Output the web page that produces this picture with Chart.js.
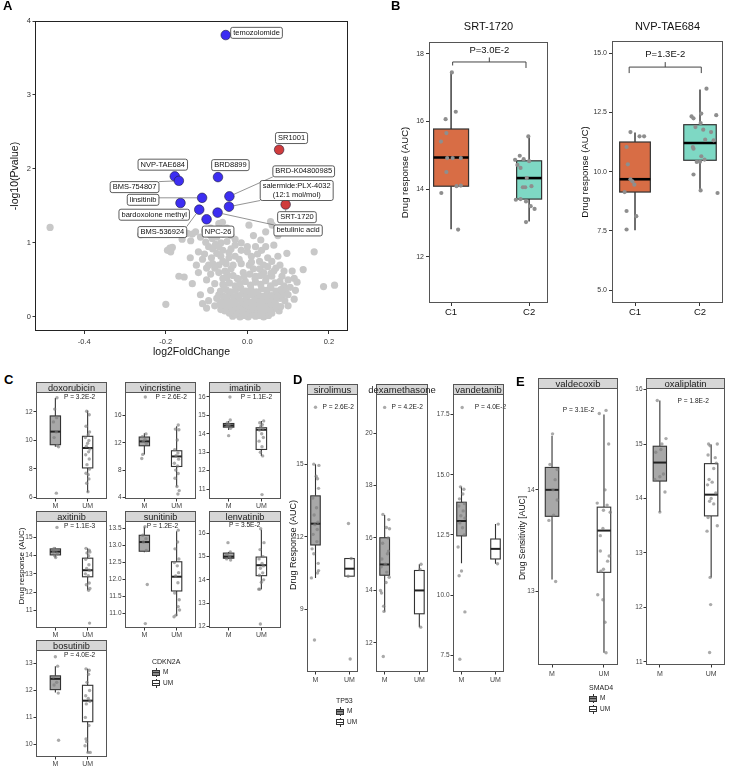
<!DOCTYPE html>
<html>
<head>
<meta charset="utf-8">
<script src="https://cdn.jsdelivr.net/npm/chart.js@4.4.0/dist/chart.umd.min.js"></script>
<style>
  body { margin: 0; background: #fff; font-family: "Liberation Sans", Arial, sans-serif; }
  #fig { position: relative; width: 729px; height: 766px; overflow: hidden; }
  #fig canvas { position: absolute; }
  .letter { position: absolute; font-weight: bold; font-size: 13px; color: #000; }
  .yt { position: absolute; width: 120px; height: 12px; line-height: 12px; margin-left: -60px; margin-top: -6px;
        text-align: center; transform: rotate(-90deg); white-space: nowrap; color: #111; }
  .lg { position: absolute; font-size: 6.5px; color: #222; white-space: nowrap; }
  .key { position: absolute; width: 8px; height: 7px; }
  .key .w { position: absolute; left: 3.5px; top: -1px; width: 1px; height: 9px; background: #333; }
  .key .b { position: absolute; left: 0; top: 0.5px; width: 6px; height: 4px; border: 1px solid #333; }
  .key .m { position: absolute; left: 0; top: 3px; width: 8px; height: 1px; background: #333; }
</style>
</head>
<body>
<div id="fig"></div>
<script>
// ---------- A: volcano ----------
const volcanoTicksX = ['-0.4', '-0.2', '0.0', '0.2'];
const volcanoTicksY = ['0', '1', '2', '3', '4'];
const hitNames = ['temozolomide', 'SR1001', 'NVP-TAE684', 'BMS-754807', 'BRD8899', 'BRD-K04800985',
  'linsitinib', 'salermide:PLX-4032\n(12:1 mol/mol)', 'bardoxolone methyl', 'BMS-536924',
  'betulinic acid', 'NPC-26', 'SRT-1720'];
const hitX = [-0.053, 0.078, -0.178, -0.168, -0.072, -0.044, -0.111, -0.045, -0.164, -0.118, -0.073, -0.100, 0.094];
const hitY = [3.81, 2.26, 1.90, 1.84, 1.89, 1.63, 1.61, 1.49, 1.54, 1.45, 1.41, 1.32, 1.52];
const hitUp = [false, true, false, false, false, false, false, false, false, false, false, false, true];
const greyPoints = [
  [-0.484,1.21],[-0.262,1.11],[-0.2,0.17],[-0.19,0.93],[-0.188,0.88],[-0.196,0.9],[-0.184,0.94],
  [-0.168,0.55],[-0.155,0.54],[-0.135,0.45],[-0.115,0.30],[-0.11,0.18],[-0.127,1.15],[-0.135,1.12],
  [-0.147,1.13],[-0.16,1.05],[-0.139,1.03],[-0.098,1.13],[-0.082,1.18],[-0.07,1.26],[-0.061,1.28],
  [-0.102,1.01],[-0.086,1.06],[-0.095,0.95],[-0.078,0.98],[-0.065,1.0],[-0.05,1.02],[-0.06,0.9],
  [-0.075,0.86],[-0.088,0.8],[-0.04,0.92],[-0.03,0.97],[0.004,1.24],[0.057,1.29],[0.061,1.24],
  [0.033,1.04],[0.02,0.95],[0.045,0.95],[0.065,0.97],[0.05,0.8],[0.075,0.82],[0.097,0.86],[0.164,0.88],
  [0.137,0.64],[0.11,0.62],[0.115,0.52],[0.122,0.47],[0.118,0.36],[0.187,0.41],[0.214,0.43],[0.115,0.24],
  [0.073,0.32],[0.09,0.42],[0.1,0.3],[0.085,0.55],[0.07,0.66],[0.03,0.75],[0.005,0.7],[-0.02,0.78],
  [-0.045,0.8],[-0.11,0.78],[-0.1,0.66],[-0.12,0.6],[-0.09,0.58],[-0.1,0.5],[-0.07,0.7],[-0.055,0.62],
  [-0.08,0.45],[-0.09,0.36],[-0.075,0.25],[-0.08,0.15],[-0.095,0.22],[-0.1,0.12],[-0.065,0.1],
  [-0.09,1.1],[-0.075,1.08],[-0.06,1.12],[-0.05,1.15],[-0.04,1.1],[-0.085,0.92],[-0.065,0.82],
  [-0.052,0.72],[-0.04,0.65],[-0.07,0.6],[-0.06,0.52],[-0.08,0.66],[-0.095,0.7],[-0.105,0.85],
  [-0.12,0.88],[0.01,0.82],[0.035,0.9],[0.06,0.75],[0.08,0.7],[0.09,0.62],[0.1,0.5],[0.105,0.4],[0.095,0.33],
  [-0.06,0.75],[-0.035,0.7],[-0.01,0.6],[0.015,0.65],[0.04,0.6],[0.06,0.55],[-0.085,0.72],[-0.05,0.58],
  [-0.025,0.52],[0.025,0.85],[0.0,0.88],[-0.015,0.9],[0.04,0.7],
  [-0.115,1.08],[-0.105,1.16],[-0.09,1.2],[-0.05,1.2],[-0.03,1.05],[-0.015,1.0],[0.0,0.95],[0.015,1.1],
  [0.045,1.15],[0.075,1.1],[0.02,0.55],[0.03,0.65],[-0.07,0.95],[-0.045,0.87],[-0.03,0.82],[-0.015,0.72],
  [0.01,0.74],[0.05,0.68],[0.065,0.62],[-0.06,0.44],[0.08,0.48],[0.09,0.38],[-0.07,0.3],[-0.068,0.17],
  [0.085,0.3],[0.1,0.15],[0.078,0.08],[-0.055,0.08],[-0.125,0.7],[-0.14,0.8],
  [-0.036,0.01],[-0.027,0.03],[-0.018,0.0],[-0.008,0.02],[0.002,0.0],[0.011,0.03],[0.02,0.01],[0.03,0.02],
  [0.04,0.0],[0.052,0.02],[-0.044,0.05],[-0.031,0.06],[-0.02,0.05],[-0.01,0.07],[0.0,0.05],[0.009,0.06],
  [0.019,0.07],[0.028,0.05],[0.037,0.06],[0.047,0.07],[0.06,0.05],
  [-0.05,0.1],[-0.04,0.12],[-0.03,0.09],[-0.022,0.11],[-0.013,0.1],[-0.004,0.12],[0.005,0.09],[0.014,0.11],
  [0.023,0.1],[0.032,0.12],[0.041,0.09],[0.05,0.11],[0.062,0.1],[0.072,0.12],
  [-0.057,0.16],[-0.046,0.15],[-0.036,0.17],[-0.027,0.14],[-0.017,0.16],[-0.008,0.18],[0.002,0.15],
  [0.012,0.17],[0.021,0.14],[0.03,0.16],[0.04,0.18],[0.05,0.15],[0.06,0.17],[0.071,0.16],[0.082,0.14],
  [-0.062,0.21],[-0.05,0.23],[-0.04,0.2],[-0.03,0.22],[-0.02,0.24],[-0.011,0.21],[-0.001,0.23],[0.01,0.2],
  [0.019,0.22],[0.028,0.24],[0.038,0.21],[0.048,0.23],[0.058,0.2],[0.068,0.22],[0.08,0.25],[0.092,0.22],
  [-0.058,0.28],[-0.045,0.3],[-0.034,0.27],[-0.024,0.29],[-0.013,0.31],[-0.003,0.28],[0.008,0.3],
  [0.018,0.27],[0.027,0.3],[0.038,0.28],[0.049,0.31],[0.06,0.29],[0.072,0.27],
  [-0.066,0.35],[-0.052,0.37],[-0.041,0.34],[-0.029,0.36],[-0.016,0.39],[-0.004,0.35],[0.009,0.37],
  [0.022,0.34],[0.035,0.38],[0.047,0.36],[0.058,0.39],[0.07,0.35],[0.082,0.37],
  [-0.058,0.43],[-0.044,0.46],[-0.03,0.42],[-0.018,0.45],[-0.005,0.48],[0.008,0.43],[0.02,0.47],
  [0.033,0.44],[0.045,0.49],[0.057,0.42],[0.068,0.46],
  [-0.05,0.53],[-0.035,0.56],[-0.022,0.51],[-0.008,0.55],[0.006,0.58],[0.019,0.52],[0.032,0.56],
  [0.046,0.53],[0.058,0.59]
];

// ---------- B: clusters ----------
const clusterCats = ['C1', 'C2'];
const srtTicks = ['12', '14', '16', '18'];
const srtBox = [[12.82, 14.09, 14.94, 15.78, 17.48], [13.05, 13.71, 14.33, 14.84, 15.58]];
const srtC1 = [[0.01,17.45],[-0.07,16.07],[0.06,16.29],[-0.13,15.41],[-0.06,15.66],[-0.05,14.92],[0.02,14.92],
  [0.125,14.92],[-0.06,14.51],[0.07,14.09],[0.125,14.11],[-0.125,13.89],[0.09,12.81]];
const srtC2 = [[-0.01,15.56],[-0.12,14.99],[-0.07,14.89],[0.0,14.83],[-0.18,14.87],[-0.15,14.72],[-0.11,14.63],
  [-0.03,14.33],[-0.08,14.06],[-0.05,14.06],[0.03,14.09],[-0.17,13.69],[-0.11,13.71],[-0.04,13.64],
  [0.02,13.5],[0.07,13.42],[-0.04,13.03]];
const nvpTicks = ['5.0', '7.5', '10.0', '12.5', '15.0'];
const nvpBox = [[7.53, 9.14, 9.68, 11.25, 11.65], [9.14, 10.48, 11.21, 11.98, 13.46]];
const nvpC1 = [[-0.07,11.67],[-0.13,11.04],[0.07,11.49],[0.14,11.49],[-0.11,10.31],[-0.07,9.68],[-0.04,9.59],
  [-0.01,9.45],[-0.16,9.14],[-0.13,8.34],[0.02,8.12],[-0.13,7.56]];
const nvpC2 = [[0.1,13.5],[0.25,12.38],[-0.13,12.33],[-0.1,12.25],[0.02,12.45],[-0.07,11.88],[0.01,12.05],
  [0.05,11.77],[0.17,11.67],[0.08,11.35],[0.21,11.32],[-0.1,10.97],[-0.11,11.04],[0.02,10.65],[-0.05,10.41],
  [0.0,10.42],[0.07,10.51],[-0.1,9.88],[0.01,9.21],[0.27,9.1]];

// ---------- C / D / E: mutation status ----------
const mutCats = ['M', 'UM'];
const doxorubicinTicks = ['6', '8', '10', '12'];
const doxorubicinBox = [[9.55, 9.7, 10.62, 11.72, 12.98], [6.36, 8.07, 9.47, 10.29, 12.1]];
const doxorubicinM = [[0.05,13.0],[-0.02,12.2],[0.04,11.6],[-0.06,11.3],[0.03,10.6],[-0.04,10.2],[0.06,9.65],[0.1,9.55],[0.03,6.3]];
const doxorubicinUM = [[-0.03,12.05],[0.05,11.8],[-0.05,11.0],[0.06,10.6],[0.02,10.4],[-0.07,10.2],[0.04,10.0],[0.0,9.8],
  [-0.04,9.6],[0.07,9.4],[0.03,9.2],[-0.06,9.0],[0.05,8.7],[-0.02,8.3],[0.06,8.0],[-0.05,7.7],[0.02,7.6],[0.04,7.3],[-0.03,7.0],[0.01,6.4]];
const vincristineTicks = ['4', '8', '12', '16'];
const vincristineBox = [[10.3, 11.56, 12.2, 12.84, 13.4], [5.6, 8.53, 10.0, 10.83, 14.4]];
const vincristineM = [[0.03,18.7],[0.05,13.3],[-0.06,12.9],[0.02,12.5],[-0.03,12.2],[0.06,11.9],[-0.05,10.3],[-0.08,9.7]];
const vincristineUM = [[0.05,14.6],[-0.04,14.0],[0.07,13.9],[0.02,12.4],[-0.06,11.0],[0.04,10.5],[-0.02,10.1],[0.06,9.6],
  [-0.07,9.0],[0.03,8.6],[-0.03,8.0],[0.05,7.5],[-0.05,6.8],[0.01,5.6],[0.08,5.0],[0.04,4.5]];
const imatinibTicks = ['11', '12', '13', '14', '15', '16'];
const imatinibBox = [[14.2, 14.36, 14.45, 14.56, 14.7], [12.8, 13.15, 14.22, 14.33, 14.7]];
const imatinibM = [[0.04,16.0],[0.05,14.75],[-0.04,14.6],[0.02,14.5],[-0.05,14.4],[0.06,14.3],[0.0,13.9]];
const imatinibUM = [[0.07,14.7],[-0.05,14.6],[0.03,14.5],[-0.02,14.4],[0.05,14.3],[-0.06,14.2],[0.01,14.0],[0.06,13.8],
  [-0.07,13.6],[0.02,13.3],[-0.03,13.0],[0.04,12.8],[0.02,10.7]];
const axitinibTicks = ['11', '12', '13', '14', '15'];
const axitinibBox = [[13.9, 14.04, 14.22, 14.37, 14.45], [12.1, 12.84, 13.2, 13.86, 14.4]];
const axitinibM = [[0.05,15.55],[-0.04,14.4],[0.03,14.3],[-0.06,14.2],[0.06,14.1],[-0.02,14.0],[0.01,13.9]];
const axitinibUM = [[-0.05,14.4],[0.05,14.3],[0.07,14.2],[-0.02,14.15],[0.03,14.0],[-0.06,13.8],[0.04,13.5],[-0.03,13.3],
  [0.06,13.2],[-0.07,13.0],[0.02,12.9],[0.05,12.5],[-0.04,12.4],[0.07,12.2],[0.03,12.1],[0.06,10.3]];
const sunitinibTicks = ['11.0', '11.5', '12.0', '12.5', '13.0', '13.5'];
const sunitinibBox = [[12.8, 12.83, 13.1, 13.3, 13.55], [10.92, 11.66, 12.08, 12.52, 13.42]];
const sunitinibM = [[0.02,13.55],[-0.05,13.3],[0.05,13.2],[-0.03,13.1],[0.06,12.85],[0.09,11.85],[0.03,10.7]];
const sunitinibUM = [[0.05,13.45],[0.03,13.1],[-0.05,12.9],[0.07,12.6],[-0.07,12.5],[0.02,12.4],[0.06,12.2],[-0.03,12.1],
  [0.04,11.9],[-0.06,11.6],[0.08,11.4],[0.05,11.2],[0.09,11.1],[-0.02,10.95],[-0.08,10.9]];
const lenvatinibTicks = ['12', '13', '14', '15', '16'];
const lenvatinibBox = [[14.9, 14.93, 15.0, 15.15, 15.2], [13.6, 14.18, 14.63, 14.98, 16.15]];
const lenvatinibM = [[-0.02,15.6],[0.05,15.2],[-0.05,15.1],[0.03,15.0],[-0.06,14.9],[0.06,14.85]];
const lenvatinibUM = [[-0.02,16.2],[0.08,15.6],[-0.04,15.3],[0.05,15.0],[-0.07,14.9],[0.02,14.7],[0.06,14.6],[-0.03,14.5],
  [0.04,14.3],[-0.06,14.2],[0.07,14.0],[0.0,13.9],[-0.08,13.6],[-0.05,13.6],[-0.03,12.1]];
const bosutinibTicks = ['10', '11', '12', '13'];
const bosutinibBox = [[11.92, 12.03, 12.43, 12.54, 12.9], [9.7, 10.84, 11.62, 12.19, 12.8]];
const bosutinibM = [[0.0,13.25],[0.07,12.9],[-0.06,12.5],[0.04,12.3],[-0.04,12.2],[0.09,11.9],[0.1,10.15]];
const bosutinibUM = [[-0.05,12.8],[0.05,12.75],[0.03,12.6],[-0.02,12.3],[0.06,12.0],[-0.06,11.8],[0.02,11.7],[0.07,11.6],
  [-0.04,11.5],[-0.07,11.0],[0.04,10.7],[-0.05,10.2],[-0.03,10.1],[-0.08,9.95],[0.01,9.7],[0.08,9.7]];
const sirolimusTicks = ['9', '12', '15'];
const sirolimusBox = [[10.3, 11.66, 12.54, 13.69, 15.0], [10.37, 10.37, 10.68, 11.1, 11.1]];
const sirolimusM = [[0.0,17.35],[-0.05,15.0],[0.1,14.95],[0.02,14.5],[0.06,14.4],[0.09,14.0],[-0.08,13.6],[0.03,13.2],
  [-0.04,12.9],[0.07,12.6],[-0.02,12.5],[0.05,12.3],[-0.07,12.1],[0.04,11.8],[-0.1,11.5],[-0.05,11.3],[0.08,10.9],
  [0.09,10.6],[0.06,10.5],[-0.12,10.3],[-0.03,7.73]];
const sirolimusUM = [[-0.03,12.55],[0.05,11.1],[-0.04,10.37],[0.02,6.95]];
const dexamethasoneTicks = ['12', '14', '16', '18', '20'];
const dexamethasoneBox = [[13.2, 14.58, 14.99, 16.01, 16.88], [12.6, 13.11, 14.0, 14.76, 15.0]];
const dexamethasoneM = [[0.0,20.98],[-0.05,16.9],[0.12,16.7],[0.05,16.4],[0.14,16.35],[0.1,16.0],[-0.06,15.8],[0.11,15.5],
  [0.08,15.4],[-0.08,15.2],[0.02,15.0],[-0.1,14.9],[0.06,14.7],[0.13,14.5],[0.04,14.3],[-0.12,14.0],[-0.09,13.9],
  [-0.03,13.4],[-0.02,13.2],[-0.04,11.48]];
const dexamethasoneUM = [[0.05,15.0],[0.02,14.8],[0.04,12.6]];
const vandetanibTicks = ['7.5', '10.0', '12.5', '15.0', '17.5'];
const vandetanibBox = [[11.32, 12.46, 13.08, 13.86, 14.5], [11.3, 11.5, 11.92, 12.33, 12.95]];
const vandetanibM = [[0.02,17.8],[-0.03,14.5],[0.07,14.4],[0.04,14.2],[-0.06,14.0],[0.09,13.8],[-0.08,13.7],[0.05,13.5],
  [-0.02,13.3],[0.1,13.2],[-0.05,13.0],[0.03,12.8],[0.08,12.5],[-0.1,12.0],[0.0,11.0],[-0.07,10.8],[0.1,9.3],[-0.05,7.33]];
const vandetanibUM = [[0.08,12.95],[0.06,11.3]];
const valdecoxibTicks = ['13', '14'];
const valdecoxibBox = [[13.12, 13.74, 14.0, 14.22, 14.53], [12.4, 13.19, 13.6, 13.83, 14.74]];
const valdecoxibM = [[0.01,14.55],[-0.04,14.25],[0.1,14.2],[0.06,14.1],[0.02,14.0],[0.1,13.9],[0.03,13.75],[-0.06,13.7],[0.07,13.1]];
const valdecoxibUM = [[0.04,14.78],[-0.09,14.75],[0.09,14.45],[0.02,14.0],[-0.13,13.87],[0.06,13.85],[-0.01,13.8],
  [0.12,13.78],[-0.02,13.62],[-0.07,13.55],[-0.07,13.4],[0.1,13.35],[0.07,13.3],[-0.01,13.22],[-0.06,13.2],
  [-0.12,12.97],[-0.02,12.92],[0.02,12.7],[0.04,12.4]];
const oxaliplatinTicks = ['11', '12', '13', '14', '15', '16'];
const oxaliplatinBox = [[13.75, 14.32, 14.66, 14.96, 15.8], [12.55, 13.68, 14.07, 14.64, 14.99]];
const oxaliplatinM = [[-0.05,15.8],[0.12,15.1],[0.04,15.0],[0.02,14.9],[-0.08,14.85],[0.07,14.45],[0.0,14.4],[-0.1,14.35],[0.1,14.12],[0.0,13.75]];
const oxaliplatinUM = [[-0.05,15.0],[0.12,15.0],[-0.02,14.97],[-0.06,14.8],[0.08,14.75],[0.1,14.65],[0.05,14.55],[-0.04,14.35],
  [0.02,14.3],[-0.07,14.25],[0.09,14.1],[0.0,14.0],[-0.03,13.95],[0.05,13.9],[-0.06,13.65],[0.12,13.5],[-0.08,13.4],
  [-0.02,12.55],[-0.01,12.05],[-0.03,11.17]];
const pValues = {
  doxorubicin: 'P = 3.2E-2', vincristine: 'P = 2.6E-2', imatinib: 'P = 1.1E-2', axitinib: 'P = 1.1E-3',
  sunitinib: 'P = 1.2E-2', lenvatinib: 'P = 3.5E-2', bosutinib: 'P = 4.0E-2', sirolimus: 'P = 2.6E-2',
  dexamethasone: 'P = 4.2E-2', vandetanib: 'P = 4.0E-2', valdecoxib: 'P = 3.1E-2', oxaliplatin: 'P = 1.8E-2'
};

// ---------- layout ----------
const fig = document.getElementById('fig');
Chart.defaults.font.family = '"Liberation Sans", Arial, sans-serif';
Chart.defaults.color = '#333';

const boxPlugin = {
  id: 'boxes',
  beforeDatasetsDraw(chart, args, o) {
    if (!o.items || !o.items.length) return;
    const { ctx, scales: { x, y } } = chart;
    ctx.save();
    o.items.forEach((b, i) => {
      const cx = x.getPixelForValue(i + 1);
      const hw = x.getPixelForValue(i + 1 + b.hw) - cx;
      const py = v => y.getPixelForValue(v);
      ctx.strokeStyle = o.line;
      ctx.lineWidth = o.whisker;
      ctx.beginPath();
      ctx.moveTo(cx, py(b.s[4])); ctx.lineTo(cx, py(b.s[3]));
      ctx.moveTo(cx, py(b.s[1])); ctx.lineTo(cx, py(b.s[0]));
      ctx.stroke();
      ctx.fillStyle = b.fill;
      ctx.lineWidth = o.boxLine;
      ctx.fillRect(cx - hw, py(b.s[3]), 2 * hw, py(b.s[1]) - py(b.s[3]));
      ctx.strokeRect(cx - hw, py(b.s[3]), 2 * hw, py(b.s[1]) - py(b.s[3]));
      ctx.strokeStyle = o.medColor;
      ctx.lineWidth = o.median;
      ctx.beginPath();
      ctx.moveTo(cx - hw, py(b.s[2])); ctx.lineTo(cx + hw, py(b.s[2]));
      ctx.stroke();
    });
    ctx.restore();
  }
};

const facetPlugin = {
  id: 'facet',
  afterDraw(chart, args, o) {
    const { ctx, chartArea: a, scales: { x, y } } = chart;
    ctx.save();
    if (o.pText) {
      ctx.fillStyle = '#222';
      ctx.font = o.pFont + 'px "Liberation Sans", Arial, sans-serif';
      ctx.textAlign = 'center'; ctx.textBaseline = 'middle';
      ctx.fillText(o.pText, x.getPixelForValue(o.pX), y.getPixelForValue(o.pY));
    }
    if (o.bracket) {
      const br = o.bracket;
      const x1 = x.getPixelForValue(br.x1), x2 = x.getPixelForValue(br.x2);
      const yb = y.getPixelForValue(br.y);
      const xm = (x1 + x2) / 2;
      ctx.strokeStyle = '#444'; ctx.lineWidth = 1;
      ctx.beginPath();
      ctx.moveTo(x1, yb + br.dropL); ctx.lineTo(x1, yb); ctx.lineTo(x2, yb); ctx.lineTo(x2, yb + br.dropR);
      ctx.moveTo(xm, yb); ctx.lineTo(xm, yb - br.nub);
      ctx.stroke();
      ctx.fillStyle = '#111';
      ctx.font = '9.5px "Liberation Sans", Arial, sans-serif';
      ctx.textAlign = 'center'; ctx.textBaseline = 'middle';
      ctx.fillText(br.label, xm, y.getPixelForValue(br.labelY));
    }
    ctx.strokeStyle = o.frameColor; ctx.lineWidth = 1;
    ctx.strokeRect(a.left + 0.5, a.top + 0.5, a.right - a.left - 1, a.bottom - a.top - 1);
    if (o.strip) {
      ctx.fillStyle = '#d6d6d6';
      ctx.fillRect(a.left + 0.5, a.top - o.stripH + 0.5, a.right - a.left - 1, o.stripH);
      ctx.strokeRect(a.left + 0.5, a.top - o.stripH + 0.5, a.right - a.left - 1, o.stripH);
      ctx.fillStyle = '#1a1a1a';
      ctx.font = o.stripFont + 'px "Liberation Sans", Arial, sans-serif';
      ctx.textAlign = 'center'; ctx.textBaseline = 'middle';
      ctx.fillText(o.strip, (a.left + a.right) / 2, a.top - o.stripH / 2 + 1);
    }
    ctx.restore();
  }
};

const repelPlugin = {
  id: 'repel',
  afterDatasetsDraw(chart, args, o) {
    if (!o.offsets) return;
    const { ctx, scales: { x, y } } = chart;
    ctx.save();
    ctx.font = o.font + 'px "Liberation Sans", Arial, sans-serif';
    ctx.textBaseline = 'middle'; ctx.textAlign = 'center';
    hitNames.forEach((name, i) => {
      const px = x.getPixelForValue(hitX[i]), py = y.getPixelForValue(hitY[i]);
      const lines = name.split('\n');
      const lh = o.font * 1.2;
      const w = Math.max(...lines.map(l => ctx.measureText(l).width)) + 5;
      const h = lines.length * lh + 2;
      const cx = px + o.offsets[i][0], cy = py + o.offsets[i][1];
      const bx = cx - w / 2, by = cy - h / 2;
      const qx = Math.max(bx, Math.min(px, bx + w)), qy = Math.max(by, Math.min(py, by + h));
      const d = Math.hypot(qx - px, qy - py);
      if (d > 7) {
        const ux = (qx - px) / d, uy = (qy - py) / d;
        ctx.strokeStyle = '#666'; ctx.lineWidth = 0.7;
        ctx.beginPath(); ctx.moveTo(px + ux * 5, py + uy * 5); ctx.lineTo(qx, qy); ctx.stroke();
      }
      ctx.fillStyle = '#fff'; ctx.strokeStyle = '#333'; ctx.lineWidth = 0.8;
      ctx.beginPath(); ctx.roundRect(bx, by, w, h, 2); ctx.fill(); ctx.stroke();
      ctx.fillStyle = '#111';
      lines.forEach((l, k) => ctx.fillText(l, cx, by + 1 + lh * (k + 0.5)));
    });
    ctx.restore();
  }
};
Chart.register(boxPlugin, facetPlugin, repelPlugin);

function addCanvas(frame, pad) {
  const [x0, y0, x1, y1] = frame;
  const cv = document.createElement('canvas');
  const W = x1 - x0 + pad.l + pad.r, H = y1 - y0 + pad.t + pad.b;
  cv.width = W; cv.height = H;
  cv.style.left = (x0 - pad.l) + 'px'; cv.style.top = (y0 - pad.t) + 'px';
  cv.style.width = W + 'px'; cv.style.height = H + 'px';
  fig.appendChild(cv);
  return cv;
}

function axisOpts(min, max, values, labels, fit, font, extra) {
  return Object.assign({
    type: 'linear', min, max,
    afterFit: fit,
    afterBuildTicks: s => { s.ticks = values.map(v => ({ value: v })); },
    ticks: { autoSkip: false, maxRotation: 0, font: { size: font.size }, color: font.color, padding: font.pad,
      callback: (v, i) => labels[i] },
    grid: { display: true, drawOnChartArea: false, drawTicks: true, tickLength: font.tick, color: '#333', lineWidth: 1 },
    border: { display: false }
  }, extra || {});
}

// ---- A ----
(function () {
  const frame = [35, 21, 348, 331], pad = { l: 35, t: 21, r: 12, b: 29 };
  const cv = addCanvas(frame, pad);
  const labelOffsets = [[30.8, -2.2], [12.4, -11.7], [-12, -11.7], [-44.3, 6.3], [12.4, -12], [74.3, -25],
    [-59, 2], [67.7, -16.2], [-26.3, 11.7], [-36.9, 22.4], [80.5, 17.8], [11.5, 12.3], [11.3, 12.7]];
  new Chart(cv, {
    type: 'scatter',
    data: { datasets: [
      { data: hitX.map((v, i) => ({ x: v, y: hitY[i] })), pointRadius: 4.8,
        backgroundColor: hitUp.map(u => u ? '#d03c3c' : '#3d2ef2'), borderColor: '#1c1c3a', borderWidth: 0.6 },
      { data: greyPoints.map(p => ({ x: p[0], y: p[1] })), pointRadius: 3.6, backgroundColor: '#c8c8c8', borderWidth: 0 }
    ] },
    options: {
      responsive: false, animation: false, devicePixelRatio: 1,
      layout: { padding: { left: 0, top: pad.t, right: pad.r, bottom: 0 } },
      plugins: { legend: { display: false }, tooltip: { enabled: false },
        facet: { frameColor: '#222' }, repel: { offsets: labelOffsets, font: 7.5 } },
      scales: {
        x: axisOpts(-0.521, 0.247, volcanoTicksX.map(Number), volcanoTicksX, s => { s.height = pad.b; },
          { size: 7.5, color: '#333', pad: 3, tick: 3 },
          { title: { display: true, text: 'log2FoldChange', font: { size: 10.5 }, color: '#111', padding: { top: 0, bottom: 1.4 } } }),
        y: axisOpts(-0.19, 4.0, volcanoTicksY.map(Number), volcanoTicksY, s => { s.width = pad.l; },
          { size: 7.5, color: '#333', pad: 1.5, tick: 2.5 },
          { title: { display: true, text: '-log10(Pvalue)', font: { size: 10.5 }, color: '#111', padding: { top: 8.7, bottom: 0 } } })
      }
    }
  });
})();

// ---- B ----
function clusterChart(cfg) {
  const cv = addCanvas(cfg.frame, cfg.pad);
  const fills = ['#d86d45', '#7ed8c4'];
  new Chart(cv, {
    type: 'scatter',
    data: { datasets: cfg.pts.map((arr, g) => ({
      data: arr.map(p => ({ x: g + 1 + p[0], y: p[1] })), pointRadius: 2.1, backgroundColor: '#8e8e8e', borderWidth: 0 })) },
    options: {
      responsive: false, animation: false, devicePixelRatio: 1,
      layout: { padding: { left: 0, top: 0, right: cfg.pad.r, bottom: 0 } },
      plugins: { legend: { display: false }, tooltip: { enabled: false },
        title: { display: true, text: cfg.title, fullSize: false, color: '#111', font: { size: 11, weight: 'normal' },
          padding: { top: 5.1, bottom: cfg.pad.t - 5.1 - 13.2 } },
        boxes: { items: cfg.box.map((s, g) => ({ s, hw: cfg.hw[g], fill: fills[g] })),
          line: '#333', whisker: 1.4, boxLine: 1.2, median: 2.6, medColor: '#000' },
        facet: { frameColor: '#555', bracket: cfg.bracket } },
      scales: {
        x: axisOpts(cfg.xr[0], cfg.xr[1], [1, 2], clusterCats, s => { s.height = cfg.pad.b; },
          { size: 9.5, color: '#111', pad: 1, tick: 3 }),
        y: axisOpts(cfg.yr[0], cfg.yr[1], cfg.ticks.map(Number), cfg.ticks, s => { s.width = cfg.pad.l; },
          { size: 7, color: '#333', pad: 2, tick: 3 },
          { title: { display: true, text: 'Drug response (AUC)', font: { size: 9.5 }, color: '#111', padding: { top: 1.3, bottom: 0 } } })
      }
    }
  });
}
clusterChart({ title: 'SRT-1720', frame: [429, 42, 548, 303], pad: { l: 31, t: 27, r: 4, b: 17 },
  xr: [0.717, 2.242], yr: [10.64, 18.35], ticks: srtTicks, box: srtBox, pts: [srtC1, srtC2], hw: [0.224, 0.16],
  bracket: { x1: 1.02, x2: 1.96, y: 17.76, dropL: 3.5, dropR: 6, nub: 4.5, label: 'P=3.0E-2', labelY: 18.09 } });
clusterChart({ title: 'NVP-TAE684', frame: [612, 41, 723, 303], pad: { l: 34, t: 26, r: 5, b: 17 },
  xr: [0.646, 2.354], yr: [4.46, 15.51], ticks: nvpTicks, box: nvpBox, pts: [nvpC1, nvpC2], hw: [0.236, 0.25],
  bracket: { x1: 0.91, x2: 2.02, y: 14.41, dropL: 6, dropR: 6, nub: 5, label: 'P=1.3E-2', labelY: 14.93 } });

// ---- C / D / E facets ----
const groupStyle = {
  C: { pad: { l: 22, t: 11, r: 3, b: 11 }, xr: [0.4, 2.6], hw: 0.16, stripH: 10, stripFont: 9.2, catPad: 0 },
  D: { pad: { l: 22, t: 12, r: 10, b: 12 }, xr: [0.75, 2.25], hw: 0.14, stripH: 10, stripFont: 9.5, catPad: 1 },
  E: { pad: { l: 20, t: 11, r: 1, b: 12 }, xr: [0.73, 2.27], hw: 0.13, stripH: 10, stripFont: 9.5, catPad: 2.5 }
};
const facetLayout = [
  { name: 'doxorubicin', g: 'C', frame: [36, 392, 108, 499], yr: [5.89, 13.4], pX: 1.75, pY: 13.05 },
  { name: 'vincristine', g: 'C', frame: [125, 392, 197, 499], yr: [3.77, 19.43], pX: 1.83, pY: 18.7 },
  { name: 'imatinib', g: 'C', frame: [209, 392, 282, 499], yr: [10.46, 16.27], pX: 1.85, pY: 16.0 },
  { name: 'axitinib', g: 'C', frame: [36, 521, 108, 628], yr: [10.03, 15.9], pX: 1.75, pY: 15.64 },
  { name: 'sunitinib', g: 'C', frame: [125, 521, 197, 628], yr: [10.57, 13.72], pX: 1.56, pY: 13.58 },
  { name: 'lenvatinib', g: 'C', frame: [209, 521, 282, 628], yr: [11.93, 16.53], pX: 1.49, pY: 16.33 },
  { name: 'bosutinib', g: 'C', frame: [36, 650, 108, 757], yr: [9.53, 13.5], pX: 1.75, pY: 13.31 },
  { name: 'sirolimus', g: 'D', frame: [307, 394, 358, 672], yr: [6.41, 17.9], pX: 1.67, pY: 17.35 },
  { name: 'dexamethasone', g: 'D', frame: [376, 394, 428, 672], yr: [10.89, 21.49], pX: 1.65, pY: 20.98 },
  { name: 'vandetanib', g: 'D', frame: [453, 394, 504, 672], yr: [6.8, 18.36], pX: 1.85, pY: 17.8 },
  { name: 'valdecoxib', g: 'E', frame: [538, 388, 621, 665], yr: [12.28, 15.0], pX: 1.51, pY: 14.78 },
  { name: 'oxaliplatin', g: 'E', frame: [646, 388, 728, 665], yr: [10.94, 16.03], pX: 1.65, pY: 15.78 }
];
const facetData = {
  doxorubicin: [doxorubicinTicks, doxorubicinBox, doxorubicinM, doxorubicinUM],
  vincristine: [vincristineTicks, vincristineBox, vincristineM, vincristineUM],
  imatinib: [imatinibTicks, imatinibBox, imatinibM, imatinibUM],
  axitinib: [axitinibTicks, axitinibBox, axitinibM, axitinibUM],
  sunitinib: [sunitinibTicks, sunitinibBox, sunitinibM, sunitinibUM],
  lenvatinib: [lenvatinibTicks, lenvatinibBox, lenvatinibM, lenvatinibUM],
  bosutinib: [bosutinibTicks, bosutinibBox, bosutinibM, bosutinibUM],
  sirolimus: [sirolimusTicks, sirolimusBox, sirolimusM, sirolimusUM],
  dexamethasone: [dexamethasoneTicks, dexamethasoneBox, dexamethasoneM, dexamethasoneUM],
  vandetanib: [vandetanibTicks, vandetanibBox, vandetanibM, vandetanibUM],
  valdecoxib: [valdecoxibTicks, valdecoxibBox, valdecoxibM, valdecoxibUM],
  oxaliplatin: [oxaliplatinTicks, oxaliplatinBox, oxaliplatinM, oxaliplatinUM]
};

facetLayout.forEach(L => {
  const G = groupStyle[L.g];
  const [ticks, box, ptsM, ptsUM] = facetData[L.name];
  const cv = addCanvas(L.frame, G.pad);
  const fills = ['#a8a8a8', '#ffffff'];
  new Chart(cv, {
    type: 'scatter',
    data: { datasets: [ptsM, ptsUM].map((arr, g) => ({
      data: arr.map(p => ({ x: g + 1 + p[0], y: p[1] })), pointRadius: 1.7,
      backgroundColor: 'rgba(125,125,125,0.65)', borderWidth: 0 })) },
    options: {
      responsive: false, animation: false, devicePixelRatio: 1,
      layout: { padding: { left: 0, top: G.pad.t, right: G.pad.r, bottom: 0 } },
      plugins: { legend: { display: false }, tooltip: { enabled: false },
        boxes: { items: box.map((s, g) => ({ s, hw: G.hw, fill: fills[g] })),
          line: '#333', whisker: 1.1, boxLine: 1.1, median: 2, medColor: '#222' },
        facet: { frameColor: '#555', strip: L.name, stripH: G.stripH, stripFont: G.stripFont,
          pText: pValues[L.name], pX: L.pX, pY: L.pY, pFont: 6.6 } },
      scales: {
        x: axisOpts(G.xr[0], G.xr[1], [1, 2], mutCats, s => { s.height = G.pad.b; },
          { size: 7, color: '#444', pad: G.catPad, tick: 2.5 }),
        y: axisOpts(L.yr[0], L.yr[1], ticks.map(Number), ticks, s => { s.width = G.pad.l; },
          { size: 6.5, color: '#444', pad: 1, tick: 2.5 })
      }
    }
  });
});

// ---- text and legends ----
function addText(cls, text, x, y, style) {
  const d = document.createElement('div');
  d.className = cls; d.textContent = text;
  d.style.left = x + 'px'; d.style.top = y + 'px';
  Object.assign(d.style, style || {});
  fig.appendChild(d);
  return d;
}
addText('letter', 'A', 3, -2);
addText('letter', 'B', 391, -2);
addText('letter', 'C', 4, 372);
addText('letter', 'D', 293, 372);
addText('letter', 'E', 516, 374);
addText('yt', 'Drug response (AUC)', 22, 566, { fontSize: '8px' });
addText('yt', 'Drug Response (AUC)', 293, 545, { fontSize: '9px' });
addText('yt', 'Drug Sensitivity [AUC]', 522, 538, { fontSize: '8.5px' });

function addLegend(title, x, y) {
  addText('lg', title, x, y - 4, { fontSize: '7px' });
  mutCats.forEach((c, i) => {
    const k = document.createElement('div');
    k.className = 'key';
    k.style.left = x + 'px'; k.style.top = (y + 7 + i * 10.5) + 'px';
    k.innerHTML = '<div class="w"></div><div class="b" style="background:' + (i ? '#fff' : '#8a8a8a') + '"></div><div class="m"></div>';
    fig.appendChild(k);
    addText('lg', c, x + 11, y + 6 + i * 10.5);
  });
}
addLegend('CDKN2A', 152, 662);
addLegend('TP53', 336, 701);
addLegend('SMAD4', 589, 688);
</script>
</body>
</html>
